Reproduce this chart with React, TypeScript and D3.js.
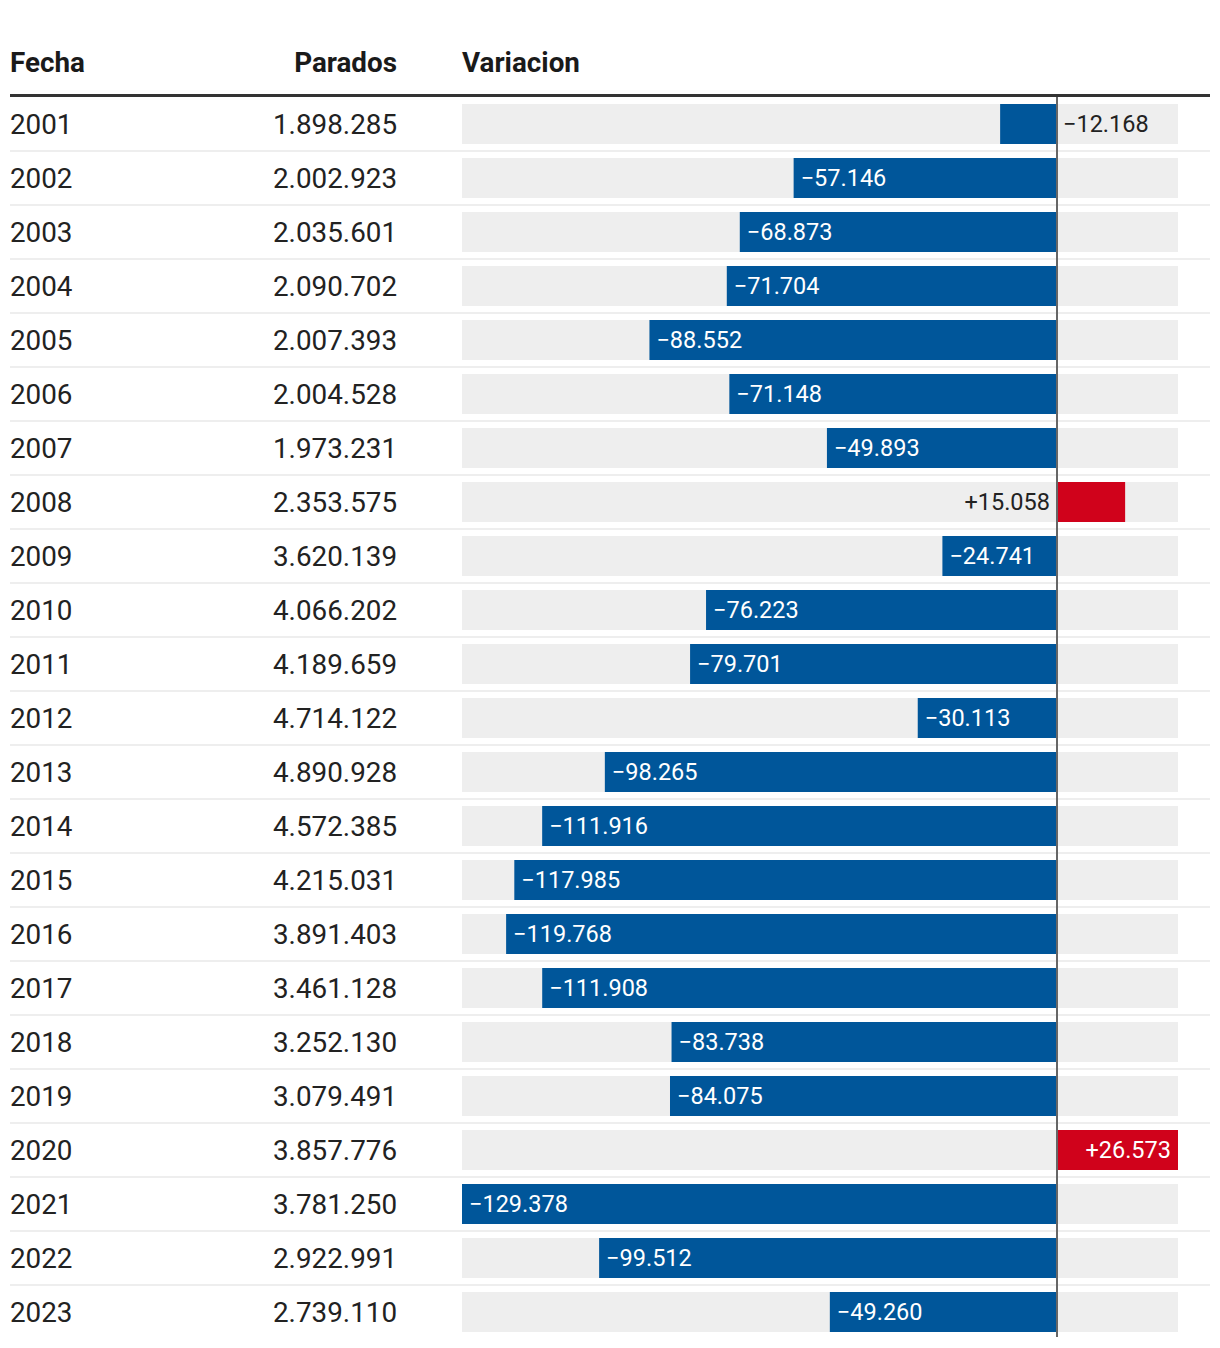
import React from "react";
import * as d3 from "d3";

const years = [2001,2002,2003,2004,2005,2006,2007,2008,2009,2010,2011,2012,2013,2014,2015,2016,2017,2018,2019,2020,2021,2022,2023];
const parados = [1898285,2002923,2035601,2090702,2007393,2004528,1973231,2353575,3620139,4066202,4189659,4714122,4890928,4572385,4215031,3891403,3461128,3252130,3079491,3857776,3781250,2922991,2739110];
const variacion = [-12168,-57146,-68873,-71704,-88552,-71148,-49893,15058,-24741,-76223,-79701,-30113,-98265,-111916,-117985,-119768,-111908,-83738,-84075,26573,-129378,-99512,-49260];
const headers = ["Fecha", "Parados", "Variacion"];

const W = 1220, H = 1348;
const FONT = "Roboto, 'Noto Sans', sans-serif";
const BLUE = "#00569a";
const RED = "#d0021b";

const fmtNum = (v: number) => Math.abs(v).toString().replace(/\B(?=(\d{3})+(?!\d))/g, ".");
const fmtVar = (v: number) => (v < 0 ? "\u2212" : "+") + fmtNum(v);

export default function App() {
  const x = d3.scaleLinear().domain([d3.min(variacion)!, d3.max(variacion)!]).range([462, 1178]);
  const y = d3.scaleBand<number>().domain(years).range([97, 97 + 54 * years.length]);
  const x0 = x(0);
  const barH = 40;
  const minInside = 75;
  const LBL = 23.5;

  return (
    <svg width={W} height={H} style={{ position: "absolute", left: 0, top: 0, fontFamily: FONT }}>
      <rect width={W} height={H} fill="#fff" />
      <text x={10} y={72} fontSize={27.8} fontWeight={700} fill="#1a1a1a">{headers[0]}</text>
      <text x={397} y={72} fontSize={27.8} fontWeight={700} fill="#1a1a1a" textAnchor="end">{headers[1]}</text>
      <text x={462} y={72} fontSize={27.8} fontWeight={700} fill="#1a1a1a">{headers[2]}</text>
      <rect x={10} y={94} width={1200} height={3} fill="#333" />
      {years.map((yr, i) => {
        const top = y(yr)!;
        const v = variacion[i];
        const bx = Math.min(x(v), x0);
        const bw = Math.abs(x(v) - x0);
        const cy = top + 27;
        const inside = bw >= minInside;
        let label;
        if (v < 0) {
          label = inside ? (
            <text x={x(v) + 7} y={cy} dy="0.35em" fontSize={LBL} fill="#fff">{fmtVar(v)}</text>
          ) : (
            <text x={x0 + 7} y={cy} dy="0.35em" fontSize={LBL} fill="#222">{fmtVar(v)}</text>
          );
        } else {
          label = inside ? (
            <text x={x(v) - 7} y={cy} dy="0.35em" fontSize={LBL} fill="#fff" textAnchor="end">{fmtVar(v)}</text>
          ) : (
            <text x={x0 - 6} y={cy} dy="0.35em" fontSize={LBL} fill="#222" textAnchor="end">{fmtVar(v)}</text>
          );
        }
        return (
          <g key={yr}>
            {i < years.length - 1 && <rect x={10} y={top + 53} width={1200} height={2} fill="#eeeeee" />}
            <text x={10} y={cy} dy="0.36em" fontSize={27.8} fill="#222">{yr}</text>
            <text x={397} y={cy} dy="0.36em" fontSize={27.8} fill="#222" textAnchor="end">{fmtNum(parados[i])}</text>
            <rect x={462} y={top + 7} width={716} height={barH} fill="#eeeeee" />
            <rect x={bx} y={top + 7} width={bw + (v < 0 ? 1 : 0)} height={barH} fill={v < 0 ? BLUE : RED} />
            {label}
          </g>
        );
      })}
      <rect x={x0} y={97} width={2} height={1240} fill="#666" />
    </svg>
  );
}
